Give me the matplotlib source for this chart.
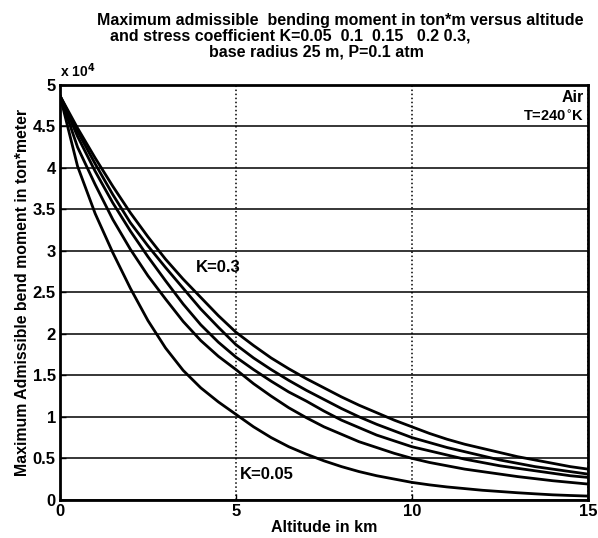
import numpy as np
import matplotlib
matplotlib.use('Agg')
from matplotlib import pyplot as plt

plt.rcParams['font.family'] = ['Liberation Sans', 'DejaVu Sans']
plt.rcParams['font.weight'] = 'bold'

# altitude in km, every half km
altitude = np.arange(0, 15.5, 0.5)

# bending moment in units of 10^4 ton*m
m_k005 = [4.87, 4.02, 3.45, 2.98, 2.55, 2.16, 1.83, 1.56, 1.35, 1.18, 1.03,
          0.88, 0.75, 0.64, 0.55, 0.47, 0.40, 0.34, 0.29, 0.25, 0.21,
          0.18, 0.155, 0.135, 0.115, 0.10, 0.085, 0.072, 0.06, 0.052, 0.045]
m_k010 = [4.87, 4.25, 3.80, 3.38, 3.02, 2.70, 2.42, 2.15, 1.92, 1.73, 1.57,
          1.40, 1.25, 1.11, 0.99, 0.88, 0.79, 0.70, 0.63, 0.56, 0.50,
          0.45, 0.41, 0.37, 0.34, 0.31, 0.28, 0.255, 0.23, 0.21, 0.19]
m_k015 = [4.87, 4.38, 3.96, 3.58, 3.24, 2.93, 2.64, 2.36, 2.11, 1.90, 1.72,
          1.57, 1.43, 1.30, 1.19, 1.07, 0.96, 0.87, 0.78, 0.71, 0.64,
          0.59, 0.54, 0.49, 0.45, 0.41, 0.38, 0.35, 0.32, 0.29, 0.27]
m_k020 = [4.87, 4.44, 4.05, 3.68, 3.34, 3.06, 2.80, 2.55, 2.30, 2.08, 1.87,
          1.71, 1.57, 1.44, 1.32, 1.21, 1.10, 1.00, 0.91, 0.83, 0.75,
          0.69, 0.63, 0.58, 0.53, 0.48, 0.44, 0.40, 0.37, 0.34, 0.31]
m_k030 = [4.87, 4.48, 4.12, 3.78, 3.46, 3.17, 2.90, 2.66, 2.44, 2.22, 2.02,
          1.86, 1.71, 1.58, 1.46, 1.35, 1.24, 1.14, 1.05, 0.96, 0.88,
          0.80, 0.73, 0.67, 0.62, 0.57, 0.52, 0.48, 0.44, 0.40, 0.37]

x_ticks = [0, 5, 10, 15]
y_ticks = [0, 0.5, 1, 1.5, 2, 2.5, 3, 3.5, 4, 4.5, 5]
y_tick_labels = ['0', '0.5', '1', '1.5', '2', '2.5', '3', '3.5', '4', '4.5', '5']

title_lines = ['Maximum admissible  bending moment in ton*m versus altitude',
               'and stress coefficient K=0.05  0.1  0.15   0.2 0.3,',
               'base radius 25 m, P=0.1 atm']

W, H = 598, 538
fig = plt.figure(figsize=(W / 100, H / 100), dpi=100)
ax = fig.add_axes([0.1003, 0.071, 0.8827, 0.771])

for m in [m_k005, m_k010, m_k015, m_k020, m_k030]:
    ax.plot(altitude, m, color='black', linewidth=2)

ax.set_xlim(0, 15)
ax.set_ylim(0, 5)
ax.set_xticks(x_ticks)
ax.set_yticks(y_ticks)
ax.set_yticklabels(y_tick_labels)
ax.tick_params(direction='in', length=4, width=1, labelsize=12, pad=3)
for lab in ax.get_xticklabels() + ax.get_yticklabels():
    lab.set_fontweight('bold')

ax.yaxis.grid(True, color='black', linestyle='-', linewidth=1.1)
ax.xaxis.grid(True, color='black', linestyle=':', linewidth=1.1)
ax.set_axisbelow(True)
for sp in ax.spines.values():
    sp.set_linewidth(2)

ax.set_xlabel('Altitude in km', fontsize=11.5, fontweight='bold', labelpad=1)
ax.set_ylabel('Maximum Admissible bend moment in ton*meter', fontsize=11.4,
              fontweight='bold', labelpad=2)

# title lines, each centred where it sits in the original
for line, xc, yc in zip(title_lines, [340, 290, 316], [20, 36, 52]):
    fig.text(xc / W, 1 - yc / H, line, fontsize=11.5, fontweight='bold',
             ha='center', va='center')

ax.text(0.0, 1.012, 'x 10$^4$', transform=ax.transAxes, fontsize=10, fontweight='bold',
        ha='left', va='bottom')
ax.text(14.9, 4.85, 'Air', fontsize=11.5, fontweight='bold', ha='right', va='center')
ax.text(14.9, 4.63, 'T=240$^{\\circ}$K', fontsize=10.5, fontweight='bold', ha='right', va='center')
ax.text(3.85, 2.8, 'K=0.3', fontsize=12, fontweight='bold', ha='left', va='center')
ax.text(5.1, 0.3, 'K=0.05', fontsize=12, fontweight='bold', ha='left', va='center')

plt.savefig('out.png', dpi=100)
